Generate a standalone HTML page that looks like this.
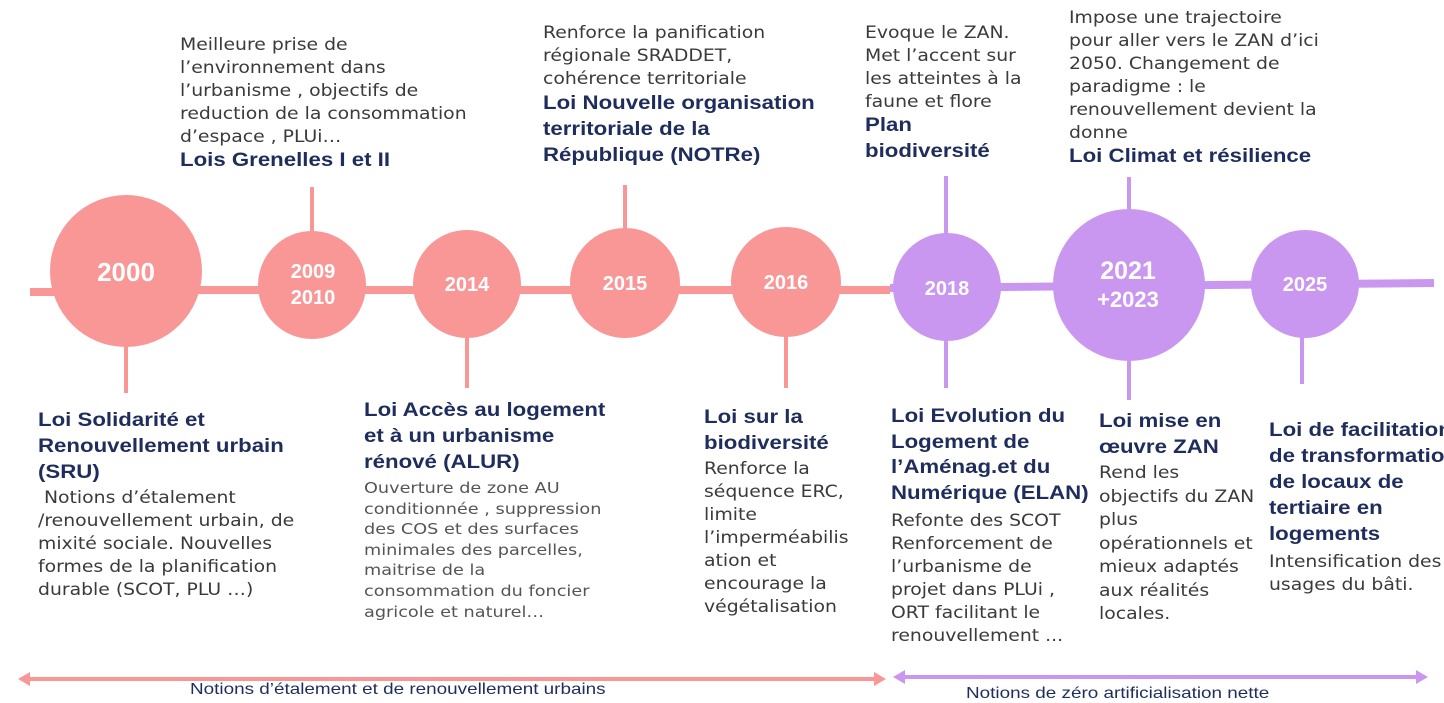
<!DOCTYPE html>
<html><head><meta charset="utf-8"><style>
body{margin:0;width:1444px;height:702px;background:#fff;position:relative;overflow:hidden}
.t{position:absolute;white-space:nowrap;font-family:"DejaVu Sans","Liberation Sans",sans-serif;font-size:16.5px;color:#3a3a3a;line-height:23px;transform:scaleX(1.14);transform-origin:0 0}
.h{font-family:"Liberation Sans",sans-serif;font-weight:bold;font-size:19.5px;color:#1f2d5c;line-height:26px}
.lab{position:absolute;font-family:"Liberation Sans",sans-serif;font-size:16px;color:#1f2d5c;white-space:nowrap;transform:scaleX(1.18);transform-origin:0 0}
</style></head><body>
<svg width="1444" height="702" style="position:absolute;left:0;top:0">
<g stroke="#f99797" stroke-width="8" fill="none">
<line x1="30" y1="292" x2="80" y2="292"/>
<line x1="190" y1="290" x2="890" y2="290"/>
<line x1="126" y1="340" x2="126" y2="393" stroke-width="4"/>
<line x1="312" y1="187" x2="312" y2="240" stroke-width="4"/>
<line x1="467" y1="330" x2="467" y2="388" stroke-width="4"/>
<line x1="625" y1="185" x2="625" y2="240" stroke-width="4"/>
<line x1="786" y1="330" x2="786" y2="388" stroke-width="4"/>
</g>
<g stroke="#c997ef" stroke-width="8" fill="none">
<line x1="890" y1="288" x2="1434" y2="283"/>
<line x1="946" y1="176" x2="946" y2="240" stroke-width="4"/>
<line x1="946" y1="330" x2="946" y2="388" stroke-width="4"/>
<line x1="1129" y1="177" x2="1129" y2="215" stroke-width="4"/>
<line x1="1129" y1="355" x2="1129" y2="400" stroke-width="4"/>
<line x1="1302" y1="330" x2="1302" y2="384" stroke-width="4"/>
</g>
<g fill="#f99797">
<circle cx="126" cy="271" r="76"/><circle cx="312" cy="285" r="54"/><circle cx="467" cy="284" r="54"/><circle cx="625" cy="283" r="55"/><circle cx="786" cy="282" r="55"/>
</g>
<g fill="#c997ef">
<circle cx="947" cy="287" r="54"/><circle cx="1129" cy="285" r="76"/><circle cx="1305" cy="284" r="54"/>
</g>
<g fill="#fff" font-family="Liberation Sans, sans-serif" font-weight="bold" text-anchor="middle">
<text x="126" y="281" font-size="26">2000</text>
<text x="313" y="278" font-size="20">2009</text><text x="313" y="304" font-size="20">2010</text>
<text x="467" y="291" font-size="20">2014</text>
<text x="625" y="290" font-size="20">2015</text>
<text x="786" y="289" font-size="20">2016</text>
<text x="947" y="295" font-size="20">2018</text>
<text x="1128" y="279" font-size="25">2021</text><text x="1128" y="307" font-size="22">+2023</text>
<text x="1305" y="291" font-size="20">2025</text>
</g>
<g stroke-width="4">
<line x1="24" y1="679" x2="880" y2="679" stroke="#f99797"/>
<path d="M18 679 L30 672 L30 686Z M886 679 L874 672 L874 686Z" fill="#f99797"/>
<line x1="899" y1="677" x2="1422" y2="677" stroke="#c997ef"/>
<path d="M893 677 L905 670 L905 684Z M1428 677 L1416 670 L1416 684Z" fill="#c997ef"/>
</g>
</svg>
<div class="lab" style="left:190px;top:681px">Notions d’étalement et de renouvellement urbains</div>
<div class="lab" style="left:966px;top:685px">Notions de zéro artificialisation nette</div>

<div class="t" style="left:180px;top:33px">Meilleure prise de<br>l’environnement dans<br>l’urbanisme , objectifs de<br>reduction de la consommation<br>d’espace , PLUi…</div>
<div class="t h" style="left:180px;top:147px">Lois Grenelles I et II</div>

<div class="t" style="left:543px;top:21px">Renforce la panification<br>régionale SRADDET,<br>cohérence territoriale</div>
<div class="t h" style="left:543px;top:90px">Loi Nouvelle organisation<br>territoriale de la<br>République  (NOTRe)</div>

<div class="t" style="left:865px;top:21px">Evoque le ZAN.<br>Met l’accent sur<br>les atteintes à la<br>faune et flore</div>
<div class="t h" style="left:865px;top:112px">Plan<br>biodiversité</div>

<div class="t" style="left:1069px;top:6px">Impose une trajectoire<br>pour aller vers le ZAN d’ici<br>2050. Changement de<br>paradigme : le<br>renouvellement devient la<br>donne</div>
<div class="t h" style="left:1069px;top:143px">Loi Climat et résilience</div>

<div class="t h" style="left:38px;top:407px">Loi Solidarité et<br>Renouvellement urbain<br>(SRU)</div>
<div class="t" style="left:38px;top:486px">&nbsp;Notions d’étalement<br>/renouvellement urbain, de<br>mixité sociale. Nouvelles<br>formes de la planification<br>durable (SCOT, PLU …)</div>

<div class="t h" style="left:364px;top:397px">Loi Accès au logement<br>et à un urbanisme<br>rénové (ALUR)</div>
<div class="t" style="left:364px;top:478px;line-height:20.6px;font-size:15.5px;color:#555">Ouverture de zone AU<br>conditionnée , suppression<br>des COS et des surfaces<br>minimales des parcelles,<br>maitrise de la<br>consommation du foncier<br>agricole et naturel…</div>

<div class="t h" style="left:704px;top:404px">Loi sur la<br>biodiversité</div>
<div class="t" style="left:704px;top:457px">Renforce la<br>séquence ERC,<br>limite<br>l’imperméabilis<br>ation et<br>encourage la<br>végétalisation</div>

<div class="t h" style="left:891px;top:404px;line-height:25.7px">Loi Evolution du<br>Logement de<br>l’Aménag.et du<br>Numérique (ELAN)</div>
<div class="t" style="left:891px;top:509px">Refonte des SCOT<br>Renforcement de<br>l’urbanisme de<br>projet dans PLUi ,<br>ORT facilitant le<br>renouvellement ...</div>

<div class="t h" style="left:1099px;top:408px">Loi mise en<br>œuvre ZAN</div>
<div class="t" style="left:1099px;top:461px;line-height:23.5px">Rend les<br>objectifs du ZAN<br>plus<br>opérationnels et<br>mieux adaptés<br>aux réalités<br>locales.</div>

<div class="t h" style="left:1269px;top:417px">Loi de facilitation<br>de transformation<br>de locaux de<br>tertiaire en<br>logements</div>
<div class="t" style="left:1269px;top:550px">Intensification des<br>usages du bâti.</div>
</body></html>
